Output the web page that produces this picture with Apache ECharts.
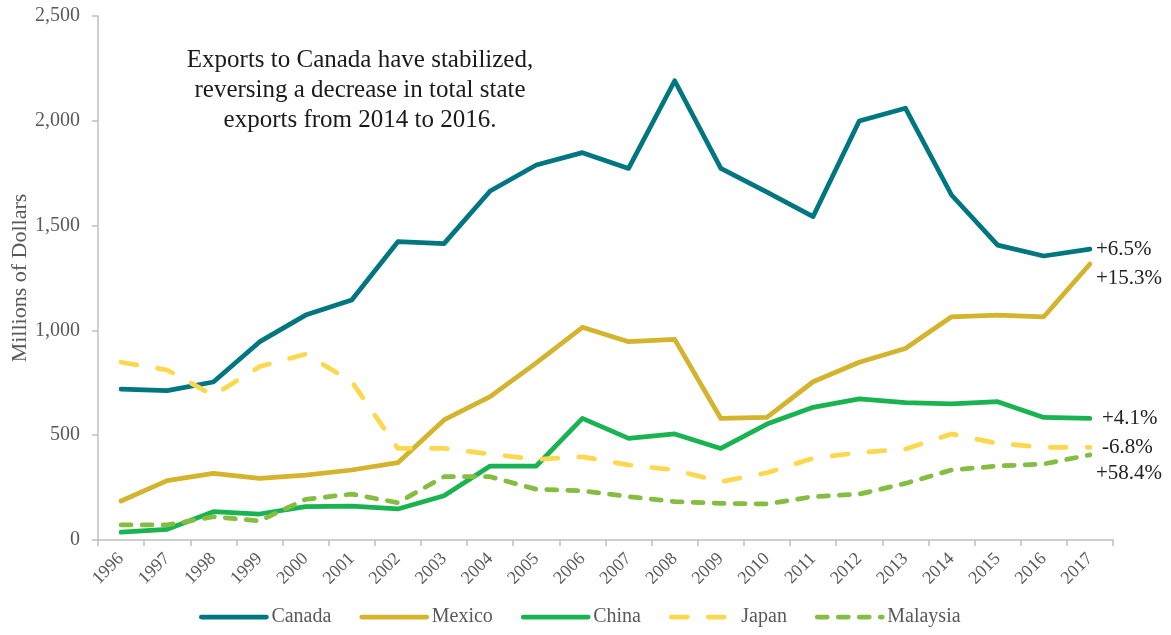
<!DOCTYPE html>
<html>
<head>
<meta charset="utf-8">
<script src="https://cdn.jsdelivr.net/npm/echarts@6/dist/echarts.min.js"></script>
<style>
html,body{margin:0;padding:0;background:#fff;}
#chart{width:1171px;height:635px;}
</style>
</head>
<body>
<div id="chart"></div>
<script>
var years = ['1996','1997','1998','1999','2000','2001','2002','2003','2004','2005','2006','2007','2008','2009','2010','2011','2012','2013','2014','2015','2016','2017'];
var canada   = [720, 713, 754, 945, 1073, 1145, 1423, 1414, 1665, 1789, 1848, 1773, 2191, 1773, 1660, 1543, 1999, 2060, 1646, 1407, 1355, 1388];
var mexico   = [186, 283, 318, 294, 310, 334, 369, 573, 684, 845, 1015, 946, 957, 580, 585, 755, 848, 914, 1065, 1073, 1065, 1317];
var china    = [37, 51, 135, 124, 159, 162, 148, 211, 353, 353, 580, 485, 506, 437, 553, 633, 673, 655, 649, 660, 585, 580];
var japan    = [848, 811, 690, 827, 887, 755, 437, 437, 410, 385, 397, 358, 334, 278, 321, 390, 417, 434, 506, 461, 442, 442];
var malaysia = [72, 72, 111, 91, 194, 219, 178, 302, 302, 242, 235, 207, 183, 175, 172, 207, 219, 270, 334, 353, 363, 406];
var changeLabels = ['+6.5%', '+15.3%', '+4.1%', '-6.8%', '+58.4%'];
var yTicks = [0, 500, 1000, 1500, 2000, 2500];

var FONT = '"Liberation Serif", "DejaVu Serif", serif';
var GREY = '#595959';

function mkSeries(name, data, color, dash, label, offset) {
  return {
    name: name,
    type: 'line',
    data: data,
    symbol: 'none',
    smooth: false,
    lineStyle: {color: color, width: 4.75, type: dash || 'solid', cap: 'round', join: 'round'},
    itemStyle: {color: color},
    endLabel: {
      show: true,
      formatter: label,
      offset: offset,
      distance: 6,
      fontFamily: FONT,
      fontSize: 21,
      color: '#222'
    },
    emphasis: {disabled: true}
  };
}

var chart = echarts.init(document.getElementById('chart'));
chart.setOption({
  animation: false,
  backgroundColor: '#fff',
  grid: {left: 98, right: 58, top: 16, bottom: 95, containLabel: false, outerBoundsMode: 'none'},
  xAxis: {
    type: 'category',
    data: years,
    boundaryGap: true,
    axisLine: {lineStyle: {color: '#BFBFBF', width: 1.5}},
    axisTick: {show: true, alignWithLabel: false, length: 6, lineStyle: {color: '#BFBFBF', width: 1.5}},
    axisLabel: {rotate: 45, fontFamily: FONT, fontSize: 18, color: GREY, margin: 16}
  },
  yAxis: {
    type: 'value',
    min: 0,
    max: yTicks[yTicks.length - 1],
    interval: 500,
    name: 'Millions of Dollars',
    nameLocation: 'middle',
    nameGap: 67,
    nameMoveOverlap: false,
    nameTextStyle: {fontFamily: FONT, fontSize: 22, color: GREY},
    axisLine: {show: true, lineStyle: {color: '#BFBFBF', width: 1.5}},
    axisTick: {show: true, length: 6, lineStyle: {color: '#BFBFBF', width: 1.5}},
    splitLine: {show: false},
    axisLabel: {
      fontFamily: FONT, fontSize: 20, color: GREY, margin: 18,
      formatter: function (v) { return v.toLocaleString('en-US'); }
    }
  },
  legend: {
    top: 607,
    left: 199,
    padding: 0,
    itemWidth: 65,
    itemHeight: 12,
    itemGap: 28,
    itemStyle: {opacity: 0},
    lineStyle: {width: 4.75, cap: 'round'},
    textStyle: {fontFamily: FONT, fontSize: 20, color: GREY},
    data: ['Canada', 'Mexico', 'China', 'Japan', 'Malaysia']
  },
  series: [
    mkSeries('Canada', canada, '#007681', 'solid', changeLabels[0], [0, 0]),
    mkSeries('Mexico', mexico, '#D4B42C', 'solid', changeLabels[1], [0, 15]),
    mkSeries('China', china, '#1AB352', 'solid', changeLabels[2], [6, 0]),
    mkSeries('Japan', japan, '#FDD84E', [16, 21], changeLabels[3], [6, 0]),
    mkSeries('Malaysia', malaysia, '#85BD41', [10, 11], changeLabels[4], [0, 19])
  ],
  graphic: [{
    type: 'text',
    x: 360,
    y: 45,
    style: {
      text: 'Exports to Canada have stabilized,\nreversing a decrease in total state\nexports from 2014 to 2016.',
      fontFamily: FONT,
      fontSize: 25,
      lineHeight: 30,
      textAlign: 'center',
      textVerticalAlign: 'top',
      align: 'center',
      verticalAlign: 'top',
      fill: '#1a1a1a'
    }
  }]
});
</script>
</body>
</html>
